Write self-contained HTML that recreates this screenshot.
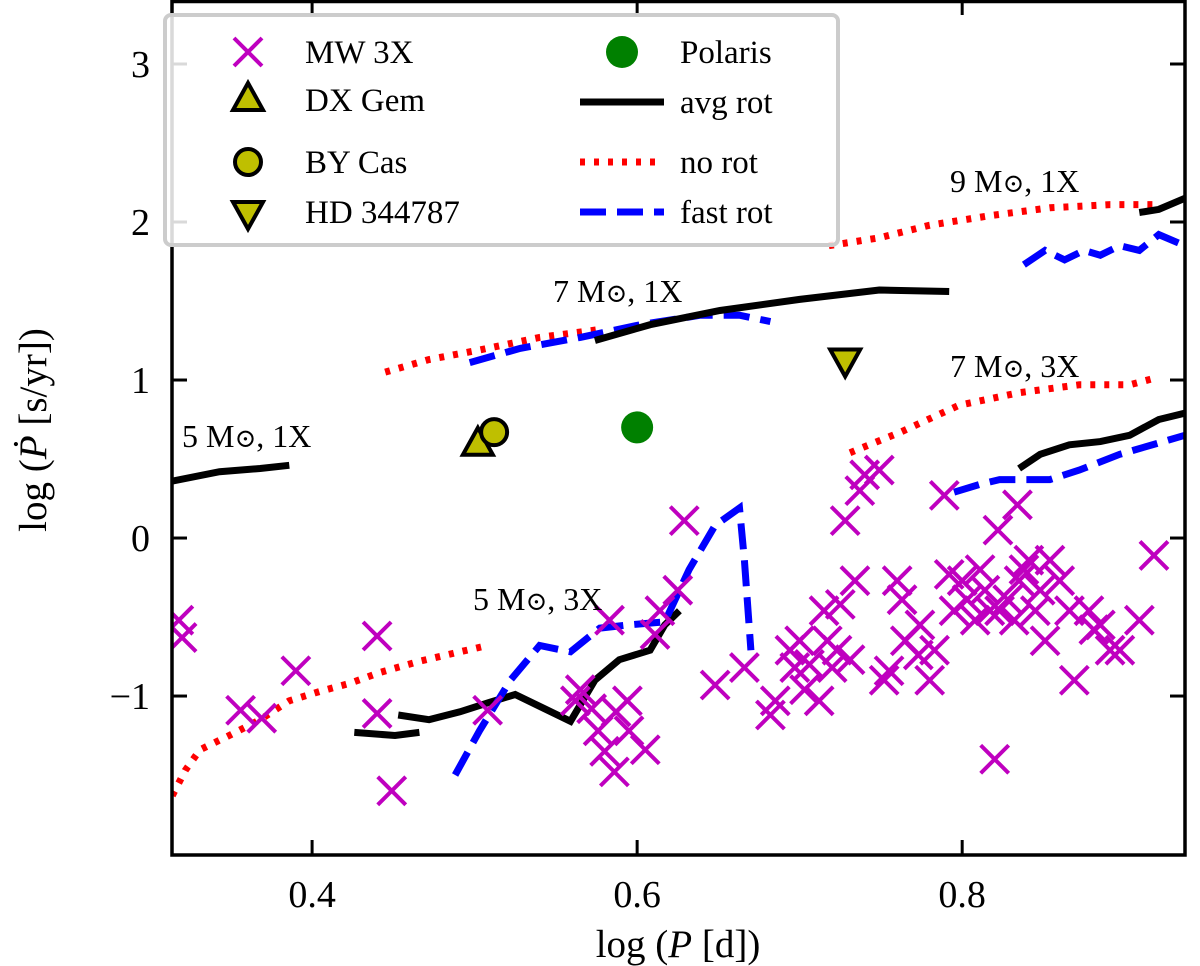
<!DOCTYPE html>
<html><head><meta charset="utf-8"><style>
html,body{margin:0;padding:0;background:#fff;}
svg{display:block;font-family:"Liberation Serif","DejaVu Serif",serif;}
</style></head><body>
<svg id="chart" width="1200" height="966" viewBox="0 0 1200 966">
<g id="plot"></g>
</svg>
<script>
const xTicks=[0.4,0.6,0.8];
const yTicks=[-1,0,1,2,3];
const yTickLabels=["\u22121","0","1","2","3"];
const mwX=[0.318,0.320,0.356,0.369,0.390,0.440,0.440,0.449,0.508,0.562,0.565,0.572,0.576,0.580,0.583,0.586,0.587,0.594,0.595,0.605,0.611,0.614,0.625,0.629,0.648,0.666,0.682,0.685,0.694,0.697,0.700,0.703,0.706,0.712,0.715,0.717,0.720,0.723,0.725,0.728,0.731,0.734,0.737,0.740,0.749,0.752,0.755,0.760,0.763,0.765,0.773,0.774,0.780,0.783,0.789,0.792,0.795,0.800,0.803,0.808,0.811,0.814,0.817,0.820,0.823,0.828,0.832,0.835,0.838,0.841,0.845,0.848,0.851,0.854,0.860,0.866,0.869,0.878,0.881,0.885,0.891,0.897,0.909,0.918,0.822,0.834];
const mwY=[-0.52,-0.63,-1.09,-1.14,-0.84,-0.62,-1.11,-1.60,-1.09,-1.03,-0.96,-1.08,-1.22,-1.35,-0.52,-1.48,-1.10,-1.03,-1.22,-1.34,-0.61,-0.46,-0.33,0.11,-0.93,-0.82,-1.12,-1.03,-0.71,-0.82,-0.65,-0.96,-0.80,-1.03,-0.46,-0.65,-0.82,-0.71,-0.42,0.11,-0.77,-0.27,0.30,0.40,0.43,-0.90,-0.84,-0.27,-0.39,-0.65,-0.74,-0.55,-0.90,-0.71,0.27,-0.23,-0.46,-0.27,-0.39,-0.52,-0.20,-0.33,-0.46,-1.40,-0.46,-0.39,-0.52,-0.27,-0.20,-0.14,-0.46,-0.33,-0.65,-0.14,-0.27,-0.46,-0.90,-0.46,-0.58,-0.55,-0.71,-0.71,-0.52,-0.11,0.05,0.21];
const m5x1_avgX=[0.314,0.343,0.368,0.386], m5x1_avgY=[0.36,0.42,0.44,0.46];
const m5x3_noX=[0.314,0.322,0.331,0.349,0.368,0.386,0.405,0.423,0.442,0.466,0.491,0.508];
const m5x3_noY=[-1.63,-1.47,-1.34,-1.25,-1.15,-1.03,-0.97,-0.92,-0.85,-0.78,-0.72,-0.68];
const m5x3_avgAX=[0.426,0.451,0.466], m5x3_avgAY=[-1.23,-1.25,-1.23];
const m5x3_avgX=[0.453,0.472,0.491,0.509,0.525,0.543,0.559,0.574,0.589,0.608,0.617,0.626];
const m5x3_avgY=[-1.12,-1.15,-1.10,-1.04,-0.99,-1.08,-1.16,-0.90,-0.77,-0.71,-0.55,-0.46];
const m5x3_fastX=[0.488,0.503,0.522,0.540,0.559,0.577,0.595,0.617,0.632,0.648,0.663,0.666,0.670];
const m5x3_fastY=[-1.50,-1.22,-0.90,-0.68,-0.72,-0.57,-0.55,-0.53,-0.20,0.08,0.19,-0.14,-0.71];
const m7x1_noX=[0.445,0.472,0.503,0.540,0.577], m7x1_noY=[1.05,1.13,1.19,1.27,1.32];
const m7x1_fastX=[0.497,0.528,0.565,0.602,0.639,0.663,0.682], m7x1_fastY=[1.11,1.20,1.27,1.35,1.41,1.41,1.37];
const m7x1_avgX=[0.574,0.608,0.651,0.700,0.749,0.792], m7x1_avgY=[1.25,1.35,1.44,1.51,1.57,1.56];
const m9x1_noX=[0.718,0.749,0.780,0.817,0.854,0.891,0.918], m9x1_noY=[1.85,1.90,1.98,2.04,2.09,2.11,2.11];
const m9x1_avgX=[0.909,0.921,0.937], m9x1_avgY=[2.06,2.08,2.15];
const m9x1_fastX=[0.838,0.851,0.863,0.875,0.885,0.897,0.909,0.921,0.937], m9x1_fastY=[1.73,1.82,1.76,1.82,1.79,1.85,1.82,1.92,1.85];
const m7x3_noX=[0.731,0.762,0.798,0.835,0.872,0.903,0.918], m7x3_noY=[0.54,0.67,0.84,0.92,0.97,0.97,1.01];
const m7x3_avgX=[0.835,0.848,0.866,0.885,0.903,0.921,0.937], m7x3_avgY=[0.44,0.53,0.59,0.61,0.65,0.75,0.79];
const m7x3_fastX=[0.795,0.811,0.823,0.854,0.872,0.897,0.937], m7x3_fastY=[0.29,0.34,0.37,0.37,0.43,0.53,0.65];
const starX=[0.502,0.512,0.600,0.728], starY=[0.59,0.67,0.70,1.13];

const L=172,R=1185,T=0,B=855;
const xmin=0.3138,xmax=0.9371,ymin=-2.006,ymax=3.405;
const sx=v=>L+(v-xmin)/(xmax-xmin)*(R-L);
const sy=v=>B-(v-ymin)/(ymax-ymin)*(B-T);
const NS="http://www.w3.org/2000/svg";
const svg=document.getElementById('chart');
const plot=document.getElementById('plot');
function mk(tag,attrs,parent){const e=document.createElementNS(NS,tag);for(const k in attrs)e.setAttribute(k,attrs[k]);(parent||svg).appendChild(e);return e;}
const cp=mk('clipPath',{id:'clip'});mk('rect',{x:L,y:T,width:R-L,height:B-T},cp);
plot.setAttribute('clip-path','url(#clip)');

function line(xs,ys,color,dash,name){
  const d=xs.map((x,i)=>(i?'L':'M')+sx(x).toFixed(1)+' '+sy(ys[i]).toFixed(1)).join(' ');
  const p=mk('path',{d:d,fill:'none',stroke:color,'stroke-width':7,'stroke-dasharray':dash||'none'},plot);
  
  
}
const RED='#ff0000',BLUE='#0000ff',BLK='#000';
line(m5x1_avgX,m5x1_avgY,BLK,null,'avg-rot-5msun-1x');
line(m5x3_noX,m5x3_noY,RED,'5 9','no-rot-5msun-3x');
line(m5x3_avgAX,m5x3_avgAY,BLK,null,'avg-rot-5msun-3x-a');
line(m5x3_avgX,m5x3_avgY,BLK,null,'avg-rot-5msun-3x');
line(m5x3_fastX,m5x3_fastY,BLUE,'26 11','fast-rot-5msun-3x');
line(m7x1_noX,m7x1_noY,RED,'5 9','no-rot-7msun-1x');
line(m7x1_fastX,m7x1_fastY,BLUE,'26 11','fast-rot-7msun-1x');
line(m7x1_avgX,m7x1_avgY,BLK,null,'avg-rot-7msun-1x');
line(m9x1_noX,m9x1_noY,RED,'5 9','no-rot-9msun-1x');
line(m9x1_avgX,m9x1_avgY,BLK,null,'avg-rot-9msun-1x');
line(m9x1_fastX,m9x1_fastY,BLUE,'26 11','fast-rot-9msun-1x');
line(m7x3_noX,m7x3_noY,RED,'5 9','no-rot-7msun-3x');
line(m7x3_avgX,m7x3_avgY,BLK,null,'avg-rot-7msun-3x');
line(m7x3_fastX,m7x3_fastY,BLUE,'26 11','fast-rot-7msun-3x');

const MAG='#bf00bf';
function cross(cx,cy,parent,s){s=s||14;return mk('path',{d:`M${cx-s} ${cy-s}L${cx+s} ${cy+s}M${cx-s} ${cy+s}L${cx+s} ${cy-s}`,stroke:MAG,'stroke-width':4,fill:'none'},parent);}
mwX.forEach((x,i)=>{const c=cross(sx(x),sy(mwY[i]),plot);

});

const OL='#bfbf00';
function triUp(cx,cy,p){return mk('path',{d:`M${cx} ${cy-17}L${cx+15} ${cy+10}L${cx-15} ${cy+10}Z`,fill:OL,stroke:'#000','stroke-width':4},p);}
function triDn(cx,cy,p){return mk('path',{d:`M${cx} ${cy+17}L${cx+15} ${cy-10}L${cx-15} ${cy-10}Z`,fill:OL,stroke:'#000','stroke-width':4},p);}
let e;
e=triUp(sx(starX[0]),sy(starY[0]),plot);
e=mk('circle',{cx:sx(starX[1]),cy:sy(starY[1]),r:13,fill:OL,stroke:'#000','stroke-width':4},plot);
e=mk('circle',{cx:sx(starX[2]),cy:sy(starY[2]),r:16,fill:'#008000'},plot);
e=triDn(sx(starX[3]),sy(starY[3]),plot);

function txt(x,y,s,name,anchor,size,parent){const t=mk('text',{x:x,y:y,'font-size':size||32,'text-anchor':anchor||'start'},parent);t.innerHTML=s;return t;}
txt(182,447,'5 M<tspan font-size="26">⊙</tspan>, 1X','label-5msun-1x');
txt(473,610,'5 M<tspan font-size="26">⊙</tspan>, 3X','label-5msun-3x');
txt(553,302,'7 M<tspan font-size="26">⊙</tspan>, 1X','label-7msun-1x');
txt(950,377,'7 M<tspan font-size="26">⊙</tspan>, 3X','label-7msun-3x');
txt(950,192,'9 M<tspan font-size="26">⊙</tspan>, 1X','label-9msun-1x');

e=mk('rect',{x:L,y:T+1.5,width:R-L,height:B-T-1.5,fill:'none',stroke:'#000','stroke-width':3.5});
xTicks.forEach(v=>{const x=sx(v);mk('line',{x1:x,x2:x,y1:B,y2:B-15,stroke:'#000','stroke-width':3});mk('line',{x1:x,x2:x,y1:T,y2:T+15,stroke:'#000','stroke-width':3});
 txt(x,B+52,v.toFixed(1),'x-tick-label','middle',38);});
yTicks.forEach((v,i)=>{const y=sy(v);mk('line',{x1:L,x2:L+15,y1:y,y2:y,stroke:'#000','stroke-width':3});mk('line',{x1:R,x2:R-15,y1:y,y2:y,stroke:'#000','stroke-width':3});
 txt(L-22,y+13,yTickLabels[i],'y-tick-label','end',38);});
txt(678,957,'log (<tspan font-style="italic">P</tspan> [d])','x-axis-title','middle',39);
const yt=txt(0,0,'log (<tspan font-style="italic">Ṗ</tspan> [s/yr])','y-axis-title','middle',39);
yt.setAttribute('transform','translate(46,430) rotate(-90)');

const lg=mk('g',{});
mk('rect',{x:165,y:15,width:673,height:230,rx:6,fill:'#fff','fill-opacity':0.85,stroke:'#ccc','stroke-width':4},lg);
cross(248,52,lg,14);txt(305,63,'MW 3X','legend-mw-3x','start',33,lg);
triUp(248,100,lg);txt(305,111,'DX Gem','legend-dx-gem','start',33,lg);
mk('circle',{cx:248,cy:162,r:13,fill:OL,stroke:'#000','stroke-width':4},lg);txt(305,173,'BY Cas','legend-by-cas','start',33,lg);
triDn(248,212,lg);txt(305,223,'HD 344787','legend-hd344787','start',33,lg);
mk('circle',{cx:622,cy:52,r:16,fill:'#008000'},lg);txt(680,63,'Polaris','legend-polaris','start',33,lg);
mk('line',{x1:580,x2:664,y1:102,y2:102,stroke:BLK,'stroke-width':7},lg);txt(680,113,'avg rot','legend-avg-rot','start',33,lg);
mk('line',{x1:580,x2:664,y1:162,y2:162,stroke:RED,'stroke-width':7,'stroke-dasharray':'5 9'},lg);txt(680,173,'no rot','legend-no-rot','start',33,lg);
mk('line',{x1:580,x2:664,y1:212,y2:212,stroke:BLUE,'stroke-width':7,'stroke-dasharray':'26 11'},lg);txt(680,223,'fast rot','legend-fast-rot','start',33,lg);
</script>
</body></html>
